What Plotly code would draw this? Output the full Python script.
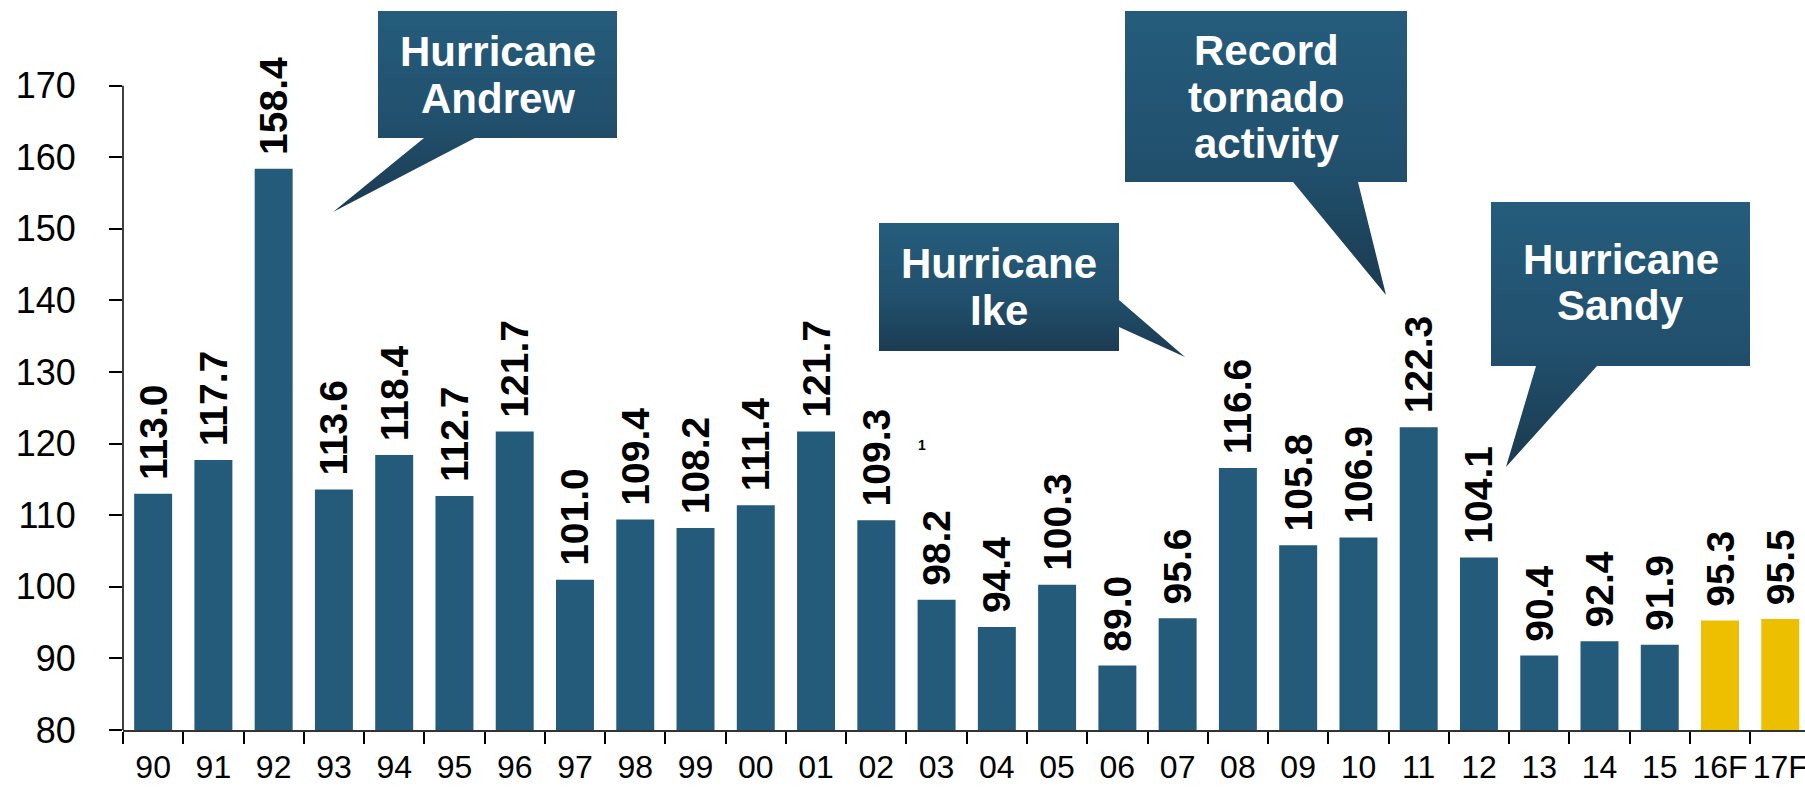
import plotly.graph_objects as go

# ---- data ----
years = ["90", "91", "92", "93", "94", "95", "96", "97", "98", "99", "00", "01", "02",
         "03", "04", "05", "06", "07", "08", "09", "10", "11", "12", "13", "14", "15",
         "16F", "17F"]
values = [113.0, 117.7, 158.4, 113.6, 118.4, 112.7, 121.7, 101.0, 109.4, 108.2, 111.4,
          121.7, 109.3, 98.2, 94.4, 100.3, 89.0, 95.6, 116.6, 105.8, 106.9, 122.3, 104.1,
          90.4, 92.4, 91.9, 95.3, 95.5]
forecast = [False] * 26 + [True, True]
y_ticks = [80, 90, 100, 110, 120, 130, 140, 150, 160, 170]

# callouts: (lines of text, outline polygon in pixel coords, text line y centres)
callouts = [
    (["Hurricane", "Andrew"],
     [(378, 11), (617, 11), (617, 138), (475, 138), (333, 212), (424, 138), (378, 138)],
     [50, 97]),
    (["Record", "tornado", "activity"],
     [(1125, 11), (1407, 11), (1407, 182), (1358, 182), (1386, 295), (1293, 182), (1125, 182)],
     [49, 96, 142]),
    (["Hurricane", "Ike"],
     [(879, 223), (1119, 223), (1119, 300), (1185, 357), (1119, 327), (1119, 351), (879, 351)],
     [262, 309]),
    (["Hurricane", "Sandy"],
     [(1491, 202), (1750, 202), (1750, 366), (1597, 366), (1506, 467), (1536, 366), (1491, 366)],
     [258, 304]),
]

BLUE = "#245b7a"
YELLOW = "#ecc000"
FONT = "Arial, Liberation Sans, Arimo, sans-serif"

W, H = 1805, 792
L, R, T, B = 123, 0, 0, 62
px_per_unit = (730 - 85.7) / 90.0
y_top = 80 + (H - B - T) / px_per_unit

fig = go.Figure()

fig.add_trace(go.Bar(
    x=years, y=values,
    marker=dict(color=[YELLOW if f else BLUE for f in forecast], line=dict(width=0)),
    width=0.63,
    text=["\u00a0" + f"{v:.1f}" for v in values],
    textposition="outside",
    textangle=-90,
    constraintext="none",
    cliponaxis=False,
    textfont=dict(family=FONT, size=39, color="black", weight="bold"),
    hoverinfo="skip",
    showlegend=False,
))

annotations = []
for lines, poly, ys in callouts:
    xs = [p[0] for p in poly] + [poly[0][0]]
    yy = [p[1] for p in poly] + [poly[0][1]]
    ymin, ymax = min(yy), max(yy)
    fig.add_trace(go.Scatter(
        x=xs, y=yy, xaxis="x2", yaxis="y2",
        mode="lines", line=dict(width=0, color="rgba(0,0,0,0)"),
        fill="toself",
        fillgradient=dict(type="vertical", start=ymin, stop=ymax,
                          colorscale=[[0, "#255c7c"], [0.55, "#21506d"], [1, "#1b3a50"]]),
        hoverinfo="skip", showlegend=False,
    ))
    cx = (poly[0][0] + poly[1][0]) / 2
    for txt, yc in zip(lines, ys):
        annotations.append(dict(
            x=cx, y=yc + 1, xref="x2", yref="y2", text=txt, showarrow=False,
            xanchor="center", yanchor="middle",
            font=dict(family=FONT, size=42, color="white", weight="bold"),
        ))

annotations.append(dict(
    x=922, y=445, xref="x2", yref="y2", text="1", showarrow=False,
    xanchor="center", yanchor="middle",
    font=dict(family=FONT, size=14, color="black", weight="bold"),
))

fig.update_layout(
    template="none",
    width=W, height=H,
    margin=dict(l=L, r=R, t=T, b=B, pad=0),
    paper_bgcolor="white", plot_bgcolor="white",
    showlegend=False,
    xaxis=dict(
        type="category", categoryorder="array", categoryarray=years,
        range=[-0.5, 27.41],
        showgrid=False, zeroline=False,
        showline=True, linecolor="#333333", linewidth=2,
        ticks="outside", tickson="boundaries", ticklen=12, tickwidth=1.5, tickcolor="black",
        tickfont=dict(family=FONT, size=32, color="black"),
        tickangle=0,
        ticklabelstandoff=8,
        automargin=False, fixedrange=True,
    ),
    yaxis=dict(
        range=[80, y_top],
        tickvals=y_ticks, ticktext=[str(v) for v in y_ticks],
        showgrid=False, zeroline=False, showline=False,
        ticks="outside", ticklen=13, tickwidth=1.5, tickcolor="black",
        tickfont=dict(family=FONT, size=36, color="black"),
        ticklabelstandoff=26,
        automargin=False, fixedrange=True,
    ),
    xaxis2=dict(range=[L, W - R], overlaying="x", visible=False, fixedrange=True, automargin=False),
    yaxis2=dict(range=[H - B, T], overlaying="y", visible=False, fixedrange=True, automargin=False),
    shapes=[dict(type="line", xref="paper", yref="y", x0=0, x1=0, y0=80, y1=170,
                 line=dict(color="black", width=1.5), layer="above")],
    annotations=annotations,
)

fig.write_html("out.html")
